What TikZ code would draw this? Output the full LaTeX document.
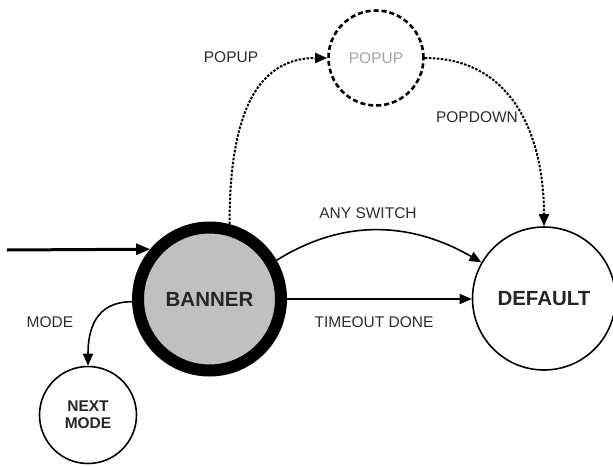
\documentclass[tikz,border=0pt]{standalone}
\usepackage{fontspec}
\setmainfont{Liberation Sans}
\usetikzlibrary{arrows.meta}
\definecolor{labelgray}{RGB}{45,45,45}
\definecolor{bannerfill}{RGB}{192,192,192}
\definecolor{ghost}{RGB}{165,165,165}
\tikzset{
  state/.style={circle, draw=black, fill=white, line width=1.6pt, inner sep=0pt,
    font=\fontsize{20.5}{22}\selectfont\bfseries, text=black!85},
  mainstate/.style={state, line width=12pt, fill=bannerfill, minimum size=143pt},
  smallstate/.style={state, minimum size=97pt, align=center,
    font=\fontsize{15.5}{17}\selectfont\bfseries},
  ghoststate/.style={state, dash pattern=on 5pt off 3pt, line width=2.6pt,
    minimum size=95pt, text=ghost, font=\fontsize{15.5}{17}\selectfont},
  edgelabel/.style={font=\fontsize{15.5}{17}\selectfont, text=labelgray, inner sep=0pt},
  trans/.style={line width=1.6pt, -{Triangle[length=12pt,width=10pt]}},
  thicktrans/.style={line width=3pt, -{Triangle[length=14pt,width=11pt]}},
  dottrans/.style={trans, line width=2pt, dash pattern=on 2.5pt off 1.5pt}
}
\begin{document}
\begin{tikzpicture}[x=1pt,y=-1pt]
\useasboundingbox (0,0) rectangle (613,466);

% states
\node[mainstate] (banner) at (209.5,299) {BANNER};
\node[state, minimum size=143pt] (default) at (544,298.5) {DEFAULT};
\node[ghoststate] (popup) at (376,58) {POPUP};
\node[smallstate] (next) at (88,415) {NEXT\\MODE};

% entry into BANNER
\coordinate (entry) at (7,250);
\draw[thicktrans] (entry) -- (banner.140);

% transitions
\draw[trans] (banner.0) -- (default.west |- banner.0);
\draw[trans] (banner.30) to[out=32,in=150] (default.150);
\draw[trans] (banner.182) to[out=180,in=90,looseness=1.2] (next.north);
\draw[dottrans] (banner.75) to[out=90,in=180,looseness=1.1] (popup.west);
\draw[dottrans] (popup.east) to[out=0,in=90,looseness=1.1] (default.north);

% transition labels
\node[edgelabel] (lpopup) at (231,57) {POPUP};
\node[edgelabel] (lpopdown) at (477,117) {POPDOWN};
\node[edgelabel] (lany) at (368,213) {ANY SWITCH};
\node[edgelabel] (ltimeout) at (374,322) {TIMEOUT DONE};
\node[edgelabel] (lmode) at (50,322) {MODE};
\end{tikzpicture}
\end{document}
